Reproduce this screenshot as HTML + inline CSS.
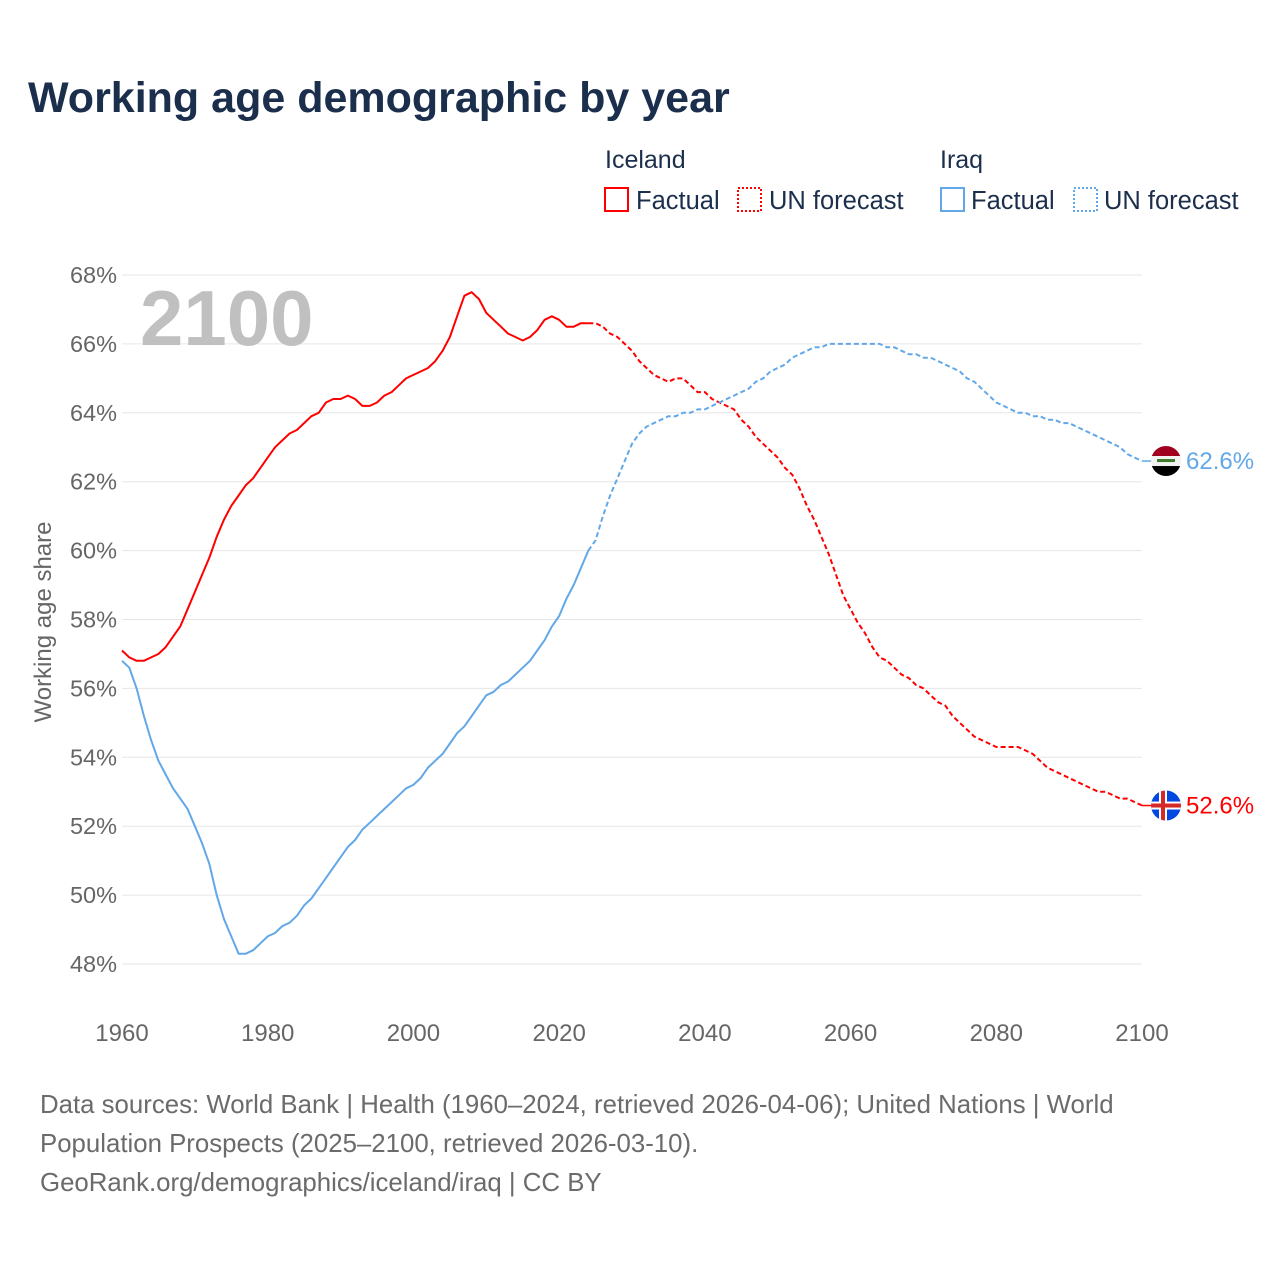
<!DOCTYPE html>
<html><head><meta charset="utf-8"><style>
html,body{margin:0;padding:0;background:#fff;}
svg{display:block;font-family:"Liberation Sans",sans-serif;}
</style></head><body>
<svg id="chart" width="1280" height="1280" viewBox="0 0 1280 1280">
<text x="28" y="112" font-size="43" font-weight="bold" fill="#1b2f4d">Working age demographic by year</text>
<g>
<text x="605" y="168" font-size="25" fill="#1b2f4d">Iceland</text>
<rect x="605" y="188" width="23" height="23" fill="none" stroke="#ff0000" stroke-width="2"/>
<text x="636" y="209" font-size="25.5" fill="#1b2f4d">Factual</text>
<rect x="738" y="188" width="23" height="23" fill="none" stroke="#ff0000" stroke-width="2" stroke-dasharray="2,2"/>
<text x="769" y="209" font-size="25.5" fill="#1b2f4d">UN forecast</text>
<text x="940" y="168" font-size="25" fill="#1b2f4d">Iraq</text>
<rect x="941" y="188" width="23" height="23" fill="none" stroke="#62a8e8" stroke-width="2"/>
<text x="971" y="209" font-size="25.5" fill="#1b2f4d">Factual</text>
<rect x="1074" y="188" width="23" height="23" fill="none" stroke="#62a8e8" stroke-width="2" stroke-dasharray="2,2"/>
<text x="1104" y="209" font-size="25.5" fill="#1b2f4d">UN forecast</text>
</g>
<g id="grid"></g>
<g id="yticks"></g>
<g id="xticks"></g>
<text x="140" y="345" font-size="78" font-weight="bold" fill="#c0c0c0">2100</text>
<text transform="translate(51,622) rotate(-90)" text-anchor="middle" font-size="24" fill="#666">Working age share</text>
<g id="series"></g>
<g id="endlabels"></g>
<g font-size="25.8" fill="#6b6b6b">
<text x="40" y="1113">Data sources: World Bank | Health (1960–2024, retrieved 2026-04-06); United Nations | World</text>
<text x="40" y="1152">Population Prospects (2025–2100, retrieved 2026-03-10).</text>
<text x="40" y="1191">GeoRank.org/demographics/iceland/iraq | CC BY</text>
</g>
</svg>
<script>
const yTicks=[48,50,52,54,56,58,60,62,64,66,68];
const xTicks=[1960,1980,2000,2020,2040,2060,2080,2100];
const factualStart=1960;
const forecastStart=2025;
const icelandFactual=[57.1,56.9,56.8,56.8,56.9,57.0,57.2,57.5,57.8,58.3,
58.8,59.3,59.8,60.4,60.9,61.3,61.6,61.9,62.1,62.4,
62.7,63.0,63.2,63.4,63.5,63.7,63.9,64.0,64.3,64.4,
64.4,64.5,64.4,64.2,64.2,64.3,64.5,64.6,64.8,65.0,
65.1,65.2,65.3,65.5,65.8,66.2,66.8,67.4,67.5,67.3,
66.9,66.7,66.5,66.3,66.2,66.1,66.2,66.4,66.7,66.8,
66.7,66.5,66.5,66.6,66.6];
const icelandForecast=[66.6,66.5,66.3,66.2,66.0,65.8,65.5,65.3,65.1,65.0,
64.9,65.0,65.0,64.8,64.6,64.6,64.4,64.3,64.2,64.1,
63.8,63.6,63.3,63.1,62.9,62.7,62.4,62.2,61.8,61.3,
60.9,60.4,59.9,59.3,58.7,58.3,57.9,57.6,57.2,56.9,
56.8,56.6,56.4,56.3,56.1,56.0,55.8,55.6,55.5,55.2,
55.0,54.8,54.6,54.5,54.4,54.3,54.3,54.3,54.3,54.2,
54.1,53.9,53.7,53.6,53.5,53.4,53.3,53.2,53.1,53.0,
53.0,52.9,52.8,52.8,52.7,52.6];
const iraqFactual=[56.8,56.6,56.0,55.2,54.5,53.9,53.5,53.1,52.8,52.5,
52.0,51.5,50.9,50.0,49.3,48.8,48.3,48.3,48.4,48.6,
48.8,48.9,49.1,49.2,49.4,49.7,49.9,50.2,50.5,50.8,
51.1,51.4,51.6,51.9,52.1,52.3,52.5,52.7,52.9,53.1,
53.2,53.4,53.7,53.9,54.1,54.4,54.7,54.9,55.2,55.5,
55.8,55.9,56.1,56.2,56.4,56.6,56.8,57.1,57.4,57.8,
58.1,58.6,59.0,59.5,60.0];
const iraqForecast=[60.3,61.0,61.6,62.1,62.6,63.1,63.4,63.6,63.7,63.8,
63.9,63.9,64.0,64.0,64.1,64.1,64.2,64.3,64.4,64.5,
64.6,64.7,64.9,65.0,65.2,65.3,65.4,65.6,65.7,65.8,
65.9,65.9,66.0,66.0,66.0,66.0,66.0,66.0,66.0,66.0,
65.9,65.9,65.8,65.7,65.7,65.6,65.6,65.5,65.4,65.3,
65.2,65.0,64.9,64.7,64.5,64.3,64.2,64.1,64.0,64.0,
63.9,63.9,63.8,63.8,63.7,63.7,63.6,63.5,63.4,63.3,
63.2,63.1,63.0,62.8,62.7,62.6];

const NS='http://www.w3.org/2000/svg';
const X0=122,X1=1142,Y0=964,Y1=275;
function xs(yr){return X0+(yr-1960)/(2100-1960)*(X1-X0);}
function ys(v){return Y0-(v-48)/(68-48)*(Y0-Y1);}
function mk(tag,attrs,parent){const e=document.createElementNS(NS,tag);for(const k in attrs)e.setAttribute(k,attrs[k]);parent.appendChild(e);return e;}

const grid=document.getElementById('grid'),yt=document.getElementById('yticks'),xt=document.getElementById('xticks');
yTicks.forEach(t=>{
  const l=mk('line',{x1:X0,x2:X1,y1:ys(t),y2:ys(t),stroke:'#e6e6e6','stroke-width':1},grid);
  
  
  const tx=mk('text',{x:117,y:ys(t)+8,'text-anchor':'end','font-size':23.5,fill:'#666'},yt);
  tx.textContent=t+'%';
  
  
});
xTicks.forEach(t=>{
  const tx=mk('text',{x:xs(t),y:1041,'text-anchor':'middle','font-size':24,fill:'#666'},xt);
  tx.textContent=t;
  
  
});

const series=document.getElementById('series');
function pts(arr,start){return arr.map((v,i)=>xs(start+i).toFixed(1)+','+ys(v).toFixed(1));}
function drawLine(arr,start,color,dash,name,prefix){
  let p=pts(arr,start);
  if(prefix)p=[prefix].concat(p);
  const l=mk('polyline',{points:p.join(' '),fill:'none',stroke:color,'stroke-width':2,'stroke-linejoin':'round'},series);
  if(dash)l.setAttribute('stroke-dasharray','5,3');
  
  
}
const lastF=(arr)=>xs(factualStart+arr.length-1).toFixed(1)+','+ys(arr[arr.length-1]).toFixed(1);
drawLine(icelandFactual,factualStart,'#ff0000',false,'iceland-factual-line');
drawLine(icelandForecast,forecastStart,'#ff0000',true,'iceland-forecast-line',lastF(icelandFactual));
drawLine(iraqFactual,factualStart,'#62a8e8',false,'iraq-factual-line');
drawLine(iraqForecast,forecastStart,'#62a8e8',true,'iraq-forecast-line',lastF(iraqFactual));

const el=document.getElementById('endlabels');
function endLabel(val,color,name,flag){
  const y=ys(val),cx=1166;
  const g=mk('g',{},el);
  
  
  mk('line',{x1:X1,x2:cx-14,y1:y,y2:y,stroke:color,'stroke-width':1.5},g);
  const cp=mk('clipPath',{id:'clip-'+name},g);
  mk('circle',{cx:cx,cy:y,r:15},cp);
  const fg=mk('g',{'clip-path':'url(#clip-'+name+')'},g);
  flag(fg,cx,y);
  const t=mk('text',{x:1186,y:y+8,'font-size':24,fill:color},g);
  t.textContent=val.toFixed(1)+'%';
}
endLabel(iraqForecast[iraqForecast.length-1],'#62a8e8','iraq-end-label',(g,cx,y)=>{
  mk('rect',{x:cx-15,y:y-15,width:30,height:10,fill:'#a0001e'},g);
  mk('rect',{x:cx-15,y:y-5,width:30,height:10,fill:'#f2f2f2'},g);
  mk('rect',{x:cx-15,y:y+5,width:30,height:10,fill:'#000'},g);
  mk('rect',{x:cx-9,y:y-2,width:18,height:3,fill:'#3d7a2a'},g);
});
endLabel(icelandForecast[icelandForecast.length-1],'#ff0000','iceland-end-label',(g,cx,y)=>{
  mk('rect',{x:cx-15,y:y-15,width:30,height:30,fill:'#0048e0'},g);
  mk('rect',{x:cx-15,y:y-4,width:30,height:8,fill:'#fff'},g);
  mk('rect',{x:cx-7,y:y-15,width:8,height:30,fill:'#fff'},g);
  mk('rect',{x:cx-15,y:y-2,width:30,height:4,fill:'#d72828'},g);
  mk('rect',{x:cx-5,y:y-15,width:4,height:30,fill:'#d72828'},g);
});
</script>
</body></html>
